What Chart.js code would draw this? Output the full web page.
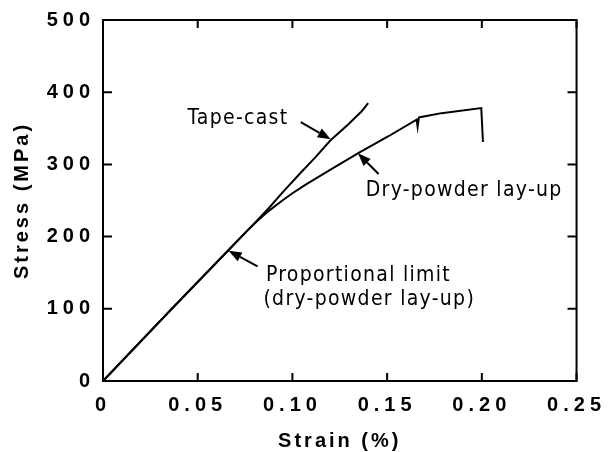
<!DOCTYPE html>
<html>
<head>
<meta charset="utf-8">
<script src="https://cdn.jsdelivr.net/npm/chart.js@4.4.0/dist/chart.umd.min.js"></script>
<style>
    html, body { margin: 0; padding: 0; background: #fff; }
    #wrap { width: 608px; height: 452px; }
</style>
</head>
<body>
<div id="wrap"><canvas id="stress-chart" width="608" height="452"></canvas></div>
<script>
// axes
var strainTicks = [0, 0.05, 0.10, 0.15, 0.20, 0.25];
var strainTickLabels = ['0', '0.05', '0.10', '0.15', '0.20', '0.25'];
var stressTicks = [0, 100, 200, 300, 400, 500];

// tape-cast curve
var tapeStrain = [0, 0.0352, 0.0658, 0.0772, 0.082, 0.0877, 0.0947, 0.1035, 0.1122, 0.120, 0.1297, 0.1367, 0.140];
var tapeStress = [0, 97, 180, 211, 224, 240, 261, 286, 310, 333, 356, 374, 385];

// dry-powder lay-up curve
var dryStrain = [0, 0.0352, 0.0658, 0.0772, 0.082, 0.0877, 0.0947, 0.100, 0.107, 0.121, 0.135, 0.1507, 0.1656, 0.1661, 0.1668, 0.1787, 0.1997, 0.2006];
var dryStress = [0, 97, 180, 211, 223, 236, 250, 260, 272, 294, 316, 339, 362, 352, 365, 371, 378, 331];

function toPoints(xs, ys) {
    return xs.map(function (v, i) { return { x: v, y: ys[i] }; });
}

var frame = {
    id: 'frame',
    beforeDraw: function (chart) {
        var ctx = chart.ctx;
        ctx.letterSpacing = '5px';
        Object.values(chart.scales).forEach(function (s) {
            if (s._titlePatched) return;
            var orig = s.drawTitle;
            s.drawTitle = function () {
                ctx.letterSpacing = '3px';
                orig.call(s);
                ctx.letterSpacing = '5px';
            };
            s._titlePatched = true;
        });
    },
    afterDraw: function (chart) {
        var ctx = chart.ctx, a = chart.chartArea;
        var xs = chart.scales.x, ys = chart.scales.y;
        ctx.save();
        ctx.letterSpacing = '0px';
        ctx.strokeStyle = '#000';
        ctx.lineWidth = 2;
        ctx.strokeRect(a.left, a.top, a.right - a.left, a.bottom - a.top);

        // inward ticks on all four sides
        ctx.beginPath();
        strainTicks.forEach(function (v) {
            var px = xs.getPixelForValue(v);
            ctx.moveTo(px, a.bottom); ctx.lineTo(px, a.bottom - 8);
            ctx.moveTo(px, a.top); ctx.lineTo(px, a.top + 8);
        });
        stressTicks.forEach(function (v) {
            var py = ys.getPixelForValue(v);
            ctx.moveTo(a.left, py); ctx.lineTo(a.left + 9, py);
            ctx.moveTo(a.right, py); ctx.lineTo(a.right - 9, py);
        });
        ctx.stroke();

        // notes
        ctx.fillStyle = '#000';
        ctx.font = '21px "DejaVu Sans Condensed", "DejaVu Sans"';
        ctx.letterSpacing = '1.3px';
        ctx.textBaseline = 'alphabetic';
        ctx.textAlign = 'left';
        function text(s, sx, sy) {
            ctx.fillText(s, xs.getPixelForValue(sx), ys.getPixelForValue(sy));
        }
        text('Tape-cast', 0.0446, 356);
        text('Dry-powder lay-up', 0.1387, 256);
        text('Proportional limit', 0.086, 139);
        text('(dry-powder lay-up)', 0.0847, 105);

        function arrow(x1, y1, x2, y2) {
            var px1 = xs.getPixelForValue(x1), py1 = ys.getPixelForValue(y1);
            var px2 = xs.getPixelForValue(x2), py2 = ys.getPixelForValue(y2);
            var ang = Math.atan2(py2 - py1, px2 - px1);
            var len = 13, half = 5;
            var bx = px2 - len * Math.cos(ang), by = py2 - len * Math.sin(ang);
            ctx.lineWidth = 2;
            ctx.beginPath();
            ctx.moveTo(px1, py1);
            ctx.lineTo(bx, by);
            ctx.stroke();
            ctx.beginPath();
            ctx.moveTo(px2, py2);
            ctx.lineTo(bx + half * Math.sin(ang), by - half * Math.cos(ang));
            ctx.lineTo(bx - half * Math.sin(ang), by + half * Math.cos(ang));
            ctx.closePath();
            ctx.fill();
        }
        arrow(0.1044, 358.5, 0.1202, 334.7);
        arrow(0.1455, 286.7, 0.1346, 315.5);
        arrow(0.0816, 158.9, 0.0663, 180.4);
        ctx.restore();
    }
};

var ctx = document.getElementById('stress-chart');
var chart = new Chart(ctx, {
    type: 'scatter',
    data: {
        datasets: [
            {
                label: 'Tape-cast',
                data: toPoints(tapeStrain, tapeStress),
                showLine: true,
                borderColor: '#000',
                borderWidth: 2,
                pointRadius: 0,
                tension: 0
            },
            {
                label: 'Dry-powder lay-up',
                data: toPoints(dryStrain, dryStress),
                showLine: true,
                borderColor: '#000',
                borderWidth: 2,
                pointRadius: 0,
                tension: 0
            }
        ]
    },
    options: {
        responsive: false,
        animation: false,
        devicePixelRatio: 1,
        layout: { padding: { left: 0, right: 29, top: 16, bottom: 0 } },
        plugins: {
            legend: { display: false },
            tooltip: { enabled: false }
        },
        scales: {
            x: {
                type: 'linear',
                min: 0,
                max: 0.25,
                afterFit: function (s) { s.height = 71; },
                afterBuildTicks: function (s) {
                    s.ticks = strainTicks.map(function (v) { return { value: v }; });
                },
                grid: { display: false, drawTicks: false },
                border: { display: false },
                ticks: {
                    color: '#000',
                    padding: 12,
                    maxRotation: 0,
                    font: { family: '"Liberation Sans", Arial', size: 20, weight: 'bold' },
                    callback: function (v) {
                        var i = strainTicks.indexOf(v);
                        return i >= 0 ? strainTickLabels[i] : '';
                    }
                },
                title: {
                    display: true,
                    text: 'Strain (%)',
                    color: '#000',
                    padding: { top: 0, bottom: 0 },
                    font: { family: '"Liberation Sans", Arial', size: 20, weight: 'bold', lineHeight: 1.1 }
                }
            },
            y: {
                type: 'linear',
                min: 0,
                max: 500,
                afterFit: function (s) { s.width = 103; },
                afterBuildTicks: function (s) {
                    s.ticks = stressTicks.map(function (v) { return { value: v }; });
                },
                grid: { display: false, drawTicks: false },
                border: { display: false },
                ticks: {
                    color: '#000',
                    padding: 8,
                    font: { family: '"Liberation Sans", Arial', size: 20, weight: 'bold' }
                },
                title: {
                    display: true,
                    text: 'Stress (MPa)',
                    color: '#000',
                    padding: { top: 11, bottom: 0 },
                    font: { family: '"Liberation Sans", Arial', size: 20, weight: 'bold', lineHeight: 1.1 }
                }
            }
        }
    },
    plugins: [frame]
});
</script>
</body>
</html>
